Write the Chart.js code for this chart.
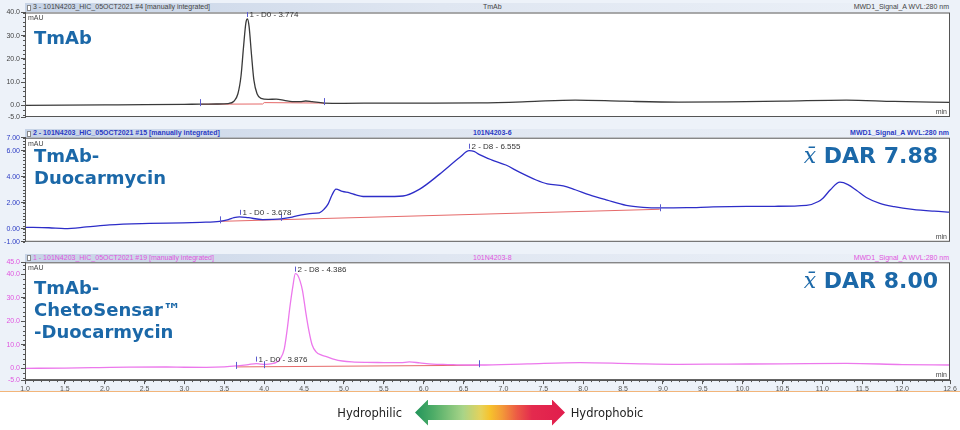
<!DOCTYPE html>
<html>
<head>
<meta charset="utf-8">
<script src="https://cdn.jsdelivr.net/npm/chart.js@4.4.1/dist/chart.umd.min.js"></script>
<style>
  body { margin: 0; width: 960px; height: 430px; position: relative; overflow: hidden; background: #fff; font-family: "Liberation Sans", Arial, sans-serif; }
  #frame { position: absolute; left: 0; top: 0; width: 960px; height: 391px; background: #edf2f9; }
  #rule { position: absolute; left: 0; top: 391px; width: 960px; height: 1px; background: #f2b57a; }
  .hdr { position: absolute; left: 25px; width: 925px; background: linear-gradient(to right, #c6d3e6, #dfe6f1 45%, #ecf1f8); font-size: 7px; }
  .hdr span { position: absolute; top: 0; white-space: nowrap; }
  .hdr .ico { position: absolute; left: 2px; top: 1.5px; width: 2px; height: 4px; border: 1px solid #888; background: #fff; }
  .box { position: absolute; left: 0; width: 960px; }
  .name { position: absolute; left: 34px; font: bold 18px/22px "DejaVu Sans", sans-serif; color: #1b68a8; white-space: nowrap; }
  .dar { position: absolute; right: 22px; font: bold 22px/26px "DejaVu Sans", sans-serif; color: #1b68a8; white-space: nowrap; }
  .dar i { font-family: "DejaVu Serif", serif; font-weight: normal; }
  #arrow { position: absolute; left: 415px; top: 399.5px; width: 150px; height: 26px;
    background: linear-gradient(to right, #22945a 0%, #4dac67 12%, #a8d488 32%, #e6d25a 44%, #f6c22c 50%, #f39a38 58%, #ec5a45 68%, #e42a4e 78%, #e11d4d 100%);
    clip-path: polygon(0 50%, 13px 0, 13px 21%, calc(100% - 13px) 21%, calc(100% - 13px) 0, 100% 50%, calc(100% - 13px) 100%, calc(100% - 13px) 79%, 13px 79%, 13px 100%); }
  .side { position: absolute; top: 405.7px; font: 11.5px/14px "DejaVu Sans", sans-serif; color: #222; white-space: nowrap; }
</style>
</head>
<body>
<div id="frame"></div>
<div id="rule"></div>

<div class="hdr" style="top:3.3px;height:9.2px;line-height:8.5px;color:#444">
  <b class="ico"></b>
  <span style="left:8px">3 - 101N4203_HIC_05OCT2021 #4 [manually integrated]</span>
  <span style="left:458px">TmAb</span>
  <span style="right:1px">MWD1_Signal_A WVL:280 nm</span>
</div>
<div class="hdr" style="top:129.3px;height:8.4px;line-height:8px;color:#2b3bc4;font-weight:bold">
  <b class="ico"></b>
  <span style="left:8px">2 - 101N4203_HIC_05OCT2021 #15 [manually integrated]</span>
  <span style="left:448px">101N4203-6</span>
  <span style="right:1px">MWD1_Signal_A WVL:280 nm</span>
</div>
<div class="hdr" style="top:253.8px;height:8.5px;line-height:8px;color:#e055e0">
  <b class="ico"></b>
  <span style="left:8px">1 - 101N4203_HIC_05OCT2021 #19 [manually integrated]</span>
  <span style="left:448px">101N4203-8</span>
  <span style="right:1px">MWD1_Signal_A WVL:280 nm</span>
</div>

<div class="box" style="top:0;height:136px"><canvas id="tmabChart"></canvas></div>
<div class="box" style="top:128px;height:132px"><canvas id="duoChart"></canvas></div>
<div class="box" style="top:252px;height:148px"><canvas id="chetoChart"></canvas></div>

<div class="name" style="top:26.8px">TmAb</div>
<div class="name" style="top:144.5px">TmAb-<br>Duocarmycin</div>
<div class="name" style="top:277.1px">TmAb-<br>ChetoSensar™<br>-Duocarmycin</div>
<div class="dar" style="top:142.7px"><i>x̄</i> DAR 7.88</div>
<div class="dar" style="top:267.7px"><i>x̄</i> DAR 8.00</div>

<div id="arrow"></div>
<div class="side" style="right:558px">Hydrophilic</div>
<div class="side" style="left:570.7px">Hydrophobic</div>

<script>
// Retention time axis (min)
const timeTicks = [1.0, 1.5, 2.0, 2.5, 3.0, 3.5, 4.0, 4.5, 5.0, 5.5, 6.0, 6.5, 7.0, 7.5, 8.0, 8.5, 9.0, 9.5, 10.0, 10.5, 11.0, 11.5, 12.0, 12.6];

// TmAb trace (mAU)
const tmabTime = [1.0, 1.5, 2.0, 2.5, 3.0, 3.2, 3.4, 3.55, 3.62, 3.67, 3.71, 3.74, 3.77, 3.79, 3.81, 3.84, 3.87, 3.91, 3.96, 4.05, 4.15, 4.25, 4.35, 4.45, 4.52, 4.6, 4.75, 5.0, 5.5, 6.0, 6.7, 7.3, 7.9, 8.5, 9.2, 9.8, 10.5, 11.3, 11.9, 12.6];
const tmabSignal = [0.0, 0.1, 0.2, 0.3, 0.45, 0.55, 0.6, 0.8, 1.8, 5, 13, 25, 35.5, 37.2, 34, 22, 11, 5, 3, 2.6, 2.7, 2.2, 1.6, 1.6, 1.9, 1.6, 1.0, 0.9, 1.0, 1.0, 1.1, 1.6, 2.3, 1.8, 1.4, 1.5, 1.8, 2.3, 1.7, 1.3];
const tmabBaseTime = [3.2, 3.98, 4.0, 4.75];
const tmabBaseSignal = [0.5, 0.6, 1.2, 1.0];
const tmabMarkTime = [3.2, 4.75];
const tmabMarkSignal = [0.55, 1.0];
const tmabPeakTime = [3.79];
const tmabPeakSignal = [37.2];
const tmabPeakText = ['1 - D0 - 3.774'];
const tmabTicks = [-5, 0, 10, 20, 30, 40];

// TmAb-Duocarmycin trace (mAU)
const duoTime = [1.0, 1.3, 1.5, 1.77, 2.06, 2.56, 2.98, 3.2, 3.44, 3.55, 3.62, 3.69, 3.8, 3.98, 4.1, 4.21, 4.35, 4.44, 4.57, 4.69, 4.75, 4.8, 4.85, 4.9, 4.98, 5.07, 5.15, 5.24, 5.49, 5.74, 5.95, 6.2, 6.45, 6.57, 6.63, 6.7, 6.85, 7.03, 7.2, 7.41, 7.55, 7.75, 7.9, 8.08, 8.3, 8.54, 8.75, 8.96, 9.3, 9.63, 10.05, 10.4, 10.8, 10.95, 11.01, 11.1, 11.22, 11.32, 11.43, 11.55, 11.72, 11.9, 12.13, 12.4, 12.6];
const duoSignal = [0.11, 0.08, 0.02, 0.14, 0.3, 0.41, 0.46, 0.5, 0.57, 0.7, 0.85, 0.92, 0.85, 0.71, 0.72, 0.76, 0.9, 1.03, 1.17, 1.22, 1.5, 1.9, 2.6, 3.05, 2.87, 2.76, 2.6, 2.48, 2.48, 2.52, 3.05, 4.2, 5.47, 6.0, 5.95, 5.7, 5.3, 4.9, 4.35, 3.75, 3.45, 3.3, 3.0, 2.6, 2.2, 1.8, 1.65, 1.6, 1.62, 1.68, 1.72, 1.73, 1.8, 2.1, 2.37, 3.0, 3.58, 3.4, 2.94, 2.4, 1.95, 1.7, 1.49, 1.35, 1.28];
const duoBaseTime = [3.44, 8.96];
const duoBaseSignal = [0.57, 1.5];
const duoMarkTime = [3.44, 4.21, 8.96];
const duoMarkSignal = [0.57, 0.76, 1.5];
const duoPeakTime = [3.69, 6.57];
const duoPeakSignal = [0.92, 6.0];
const duoPeakText = ['1 - D0 - 3.678', '2 - D8 - 6.555'];
const duoTicks = [-1, 0, 2, 4, 6, 7];

// TmAb-ChetoSensar-Duocarmycin trace (mAU)
const chetoTime = [1.0, 1.5, 1.93, 2.3, 2.77, 3.0, 3.27, 3.5, 3.65, 3.8, 3.9, 3.96, 4.02, 4.1, 4.15, 4.2, 4.25, 4.29, 4.32, 4.36, 4.39, 4.42, 4.45, 4.48, 4.52, 4.56, 4.6, 4.65, 4.72, 4.78, 4.88, 4.98, 5.1, 5.28, 5.5, 5.71, 5.82, 5.95, 6.11, 6.3, 6.53, 6.7, 7.3, 7.96, 8.6, 9.21, 9.8, 10.5, 11.3, 12.0, 12.6];
const chetoSignal = [0, 0.1, 0.3, 0.5, 0.55, 0.45, 0.4, 0.6, 1.0, 1.6, 2.0, 1.8, 1.7, 2.0, 2.5, 4, 8, 17, 25.5, 35, 40.2, 39.5, 37, 33, 24, 16, 10, 7, 5.6, 5, 3.8, 3.1, 2.7, 2.5, 2.45, 2.4, 2.7, 2.3, 1.8, 1.6, 1.4, 1.4, 1.9, 2.4, 2.0, 1.7, 1.8, 1.9, 2.1, 1.6, 1.4];
const chetoBaseTime = [3.65, 6.69];
const chetoBaseSignal = [0.6, 1.3];
const chetoMarkTime = [3.65, 4.0, 6.69];
const chetoMarkSignal = [0.6, 0.9, 1.3];
const chetoPeakTime = [3.9, 4.39];
const chetoPeakSignal = [2.0, 40.2];
const chetoPeakText = ['1 - D0 - 3.876', '2 - D8 - 4.386'];
const chetoTicks = [-5, 0, 10, 20, 30, 40, 45];

const pairs = (xs, ys) => xs.map((x, i) => ({ x: x, y: ys[i] }));
const smallFont = { family: 'Liberation Sans', size: 7 };

// white plot area, frame, minor ticks, units, integration marks and peak labels
const chromPanel = {
  id: 'chromPanel',
  beforeDraw(chart) {
    const { ctx, chartArea: a } = chart;
    ctx.save();
    ctx.fillStyle = '#fff';
    ctx.fillRect(a.left, a.top, a.right - a.left, a.bottom - a.top);
    ctx.restore();
  },
  afterDraw(chart, args, o) {
    const { ctx, chartArea: a } = chart;
    const xs = chart.scales.x, ys = chart.scales.y;
    const seg = (x1, y1, x2, y2) => { ctx.beginPath(); ctx.moveTo(x1, y1); ctx.lineTo(x2, y2); ctx.stroke(); };
    ctx.save();
    ctx.lineWidth = 1;
    ctx.strokeStyle = '#555';
    ctx.strokeRect(a.left + 0.5, a.top + 0.5, a.right - a.left - 1, a.bottom - a.top - 1);

    // minor ticks
    for (let v = Math.ceil(ys.min / o.yStep) * o.yStep; v <= ys.max + 1e-9; v += o.yStep) {
      const p = Math.round(ys.getPixelForValue(v)) + 0.5;
      seg(a.left - 2, p, a.left, p);
    }
    if (o.showX) {
      for (let v = 1.0; v <= 12.6 + 1e-9; v += 0.1) {
        const p = Math.round(xs.getPixelForValue(v)) + 0.5;
        seg(p, a.bottom, p, a.bottom + 2);
      }
    }

    ctx.font = '7px "Liberation Sans"';
    ctx.fillStyle = '#444';
    ctx.textBaseline = 'middle';
    ctx.textAlign = 'left';
    ctx.fillText('mAU', a.left + 3, a.top + 6);
    ctx.textAlign = 'right';
    ctx.fillText('min', a.right - 3, a.bottom - 5);

    // integration delimiters
    ctx.strokeStyle = '#5b5bd0';
    o.markTime.forEach((t, i) => {
      const px = Math.round(xs.getPixelForValue(t)) + 0.5;
      const py = ys.getPixelForValue(o.markSignal[i]);
      seg(px, py - 5, px, py + 2);
    });

    // peak labels
    ctx.font = '8px "Liberation Sans"';
    ctx.fillStyle = '#333';
    ctx.textAlign = 'left';
    o.peakTime.forEach((t, i) => {
      const px = Math.round(xs.getPixelForValue(t)) + 0.5;
      const py = ys.getPixelForValue(o.peakSignal[i]);
      seg(px, py - 7, px, py - 2);
      ctx.fillText(o.peakText[i], px + 2, py - 4);
    });
    ctx.restore();
  }
};

function makePanel(id, p) {
  return new Chart(document.getElementById(id), {
    type: 'line',
    data: {
      datasets: [
        { data: pairs(p.time, p.signal), borderColor: p.color, borderWidth: 1.3, pointRadius: 0, cubicInterpolationMode: 'monotone' },
        { data: pairs(p.baseTime, p.baseSignal), borderColor: '#e66a6a', borderWidth: 1, pointRadius: 0 }
      ]
    },
    options: {
      responsive: true,
      maintainAspectRatio: false,
      animation: false,
      events: [],
      layout: { padding: { top: p.padTop, bottom: p.padBottom, left: 0, right: 10 } },
      plugins: {
        legend: { display: false },
        tooltip: { enabled: false },
        chromPanel: {
          yStep: p.minor, showX: p.showX,
          markTime: p.markTime, markSignal: p.markSignal,
          peakTime: p.peakTime, peakSignal: p.peakSignal, peakText: p.peakText
        }
      },
      scales: {
        x: {
          type: 'linear', min: 1.0, max: 12.6, display: p.showX,
          afterBuildTicks: s => { s.ticks = timeTicks.map(v => ({ value: v })); },
          afterFit: s => { s.height = 12; },
          ticks: { color: '#555', font: smallFont, padding: 1, autoSkip: false, maxRotation: 0, callback: v => v.toFixed(1) },
          grid: { drawOnChartArea: false, tickLength: 4, color: '#555' },
          border: { color: '#555' }
        },
        y: {
          type: 'linear', min: p.ticks[0], max: p.ticks[p.ticks.length - 1],
          afterBuildTicks: s => { s.ticks = p.ticks.map(v => ({ value: v })); },
          afterFit: s => { s.width = 25; },
          ticks: { color: p.tickColor, font: smallFont, padding: 1, autoSkip: false, callback: v => v.toFixed(p.digits) },
          grid: { drawOnChartArea: false, tickLength: 4, color: '#555' },
          border: { color: '#555' }
        }
      }
    },
    plugins: [chromPanel]
  });
}

makePanel('tmabChart', {
  time: tmabTime, signal: tmabSignal, baseTime: tmabBaseTime, baseSignal: tmabBaseSignal,
  markTime: tmabMarkTime, markSignal: tmabMarkSignal,
  peakTime: tmabPeakTime, peakSignal: tmabPeakSignal, peakText: tmabPeakText,
  ticks: tmabTicks, digits: 1, minor: 2, color: '#3a3a3a', tickColor: '#444',
  padTop: 12.5, padBottom: 7, showX: false
});

makePanel('duoChart', {
  time: duoTime, signal: duoSignal, baseTime: duoBaseTime, baseSignal: duoBaseSignal,
  markTime: duoMarkTime, markSignal: duoMarkSignal,
  peakTime: duoPeakTime, peakSignal: duoPeakSignal, peakText: duoPeakText,
  ticks: duoTicks, digits: 2, minor: 0.25, color: '#2d2dc8', tickColor: '#2b3bc4',
  padTop: 9.7, padBottom: 6.2, showX: false
});

makePanel('chetoChart', {
  time: chetoTime, signal: chetoSignal, baseTime: chetoBaseTime, baseSignal: chetoBaseSignal,
  markTime: chetoMarkTime, markSignal: chetoMarkSignal,
  peakTime: chetoPeakTime, peakSignal: chetoPeakSignal, peakText: chetoPeakText,
  ticks: chetoTicks, digits: 1, minor: 2, color: '#ec78ec', tickColor: '#e055e0',
  padTop: 10.3, padBottom: 7.9, showX: true
});
</script>
</body>
</html>
